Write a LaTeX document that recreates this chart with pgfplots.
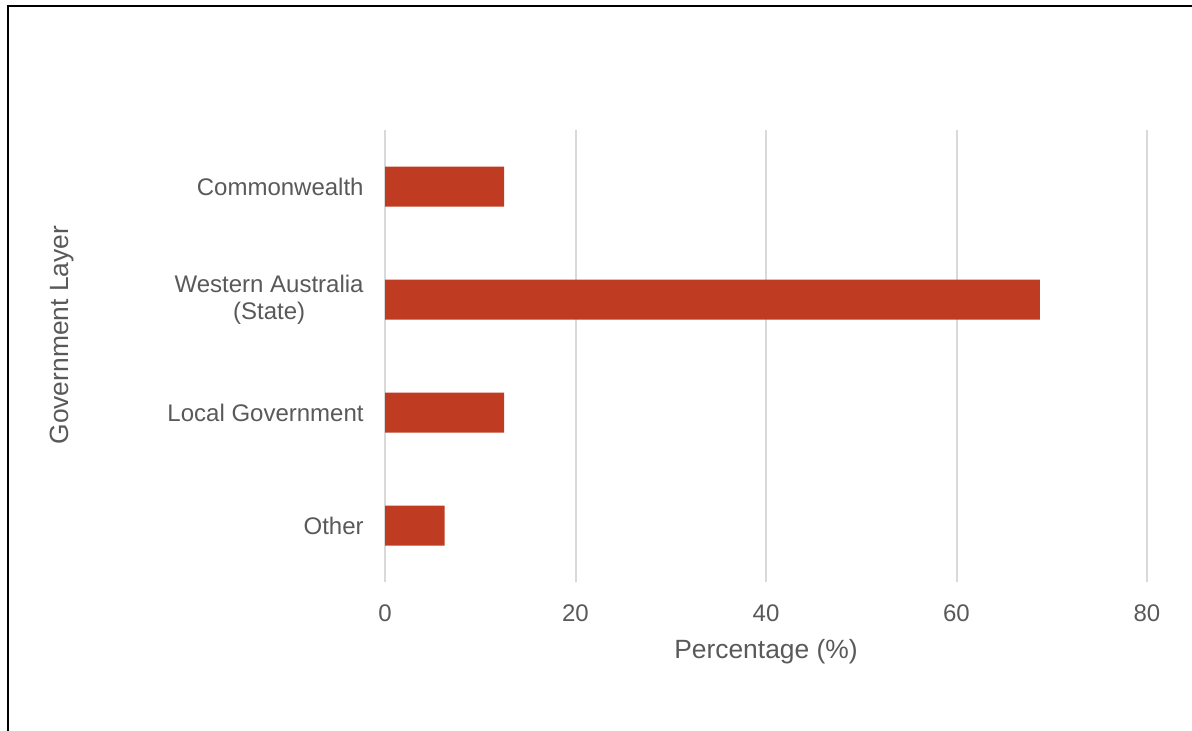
\documentclass[border=0pt]{standalone}
\usepackage{pgfplots}
\pgfplotsset{compat=1.18}
\usepackage{fontspec}
\setmainfont{Liberation Sans}
\definecolor{barc}{RGB}{191,60,34}
\definecolor{txt}{RGB}{89,89,89}
\definecolor{gridc}{RGB}{217,217,217}
\begin{document}
\begin{tikzpicture}[x=1pt,y=1pt]
\useasboundingbox (0,0) rectangle (596,365);
\draw[line width=1pt,black] (4,-5) -- (4,362) -- (605,362);
\begin{axis}[
  at={(192.5pt,74pt)}, anchor=south west,
  scale only axis, width=381pt, height=226pt,
  xbar, bar width=20pt,
  xmin=0, xmax=80, ymin=-0.5, ymax=3.5,
  xtick={0,20,40,60,80},
  ytick={0,1,2,3},
  yticklabels={Other,Local Government,{Western Australia\\(State)},Commonwealth},
  axis line style={draw=none},
  major tick length=0pt,
  xmajorgrids, grid style={gridc,line width=1pt},
  /pgf/number format/assume math mode=true,
  tick label style={font=\fontsize{12}{13.5}\selectfont, text=txt},
  yticklabel style={align=center, inner sep=0pt, xshift=-10.5pt},
  xticklabel style={inner sep=0pt, yshift=-11pt},
  xlabel={Percentage (\%)},
  ylabel={Government Layer},
  label style={font=\fontsize{13.2}{15}\selectfont, text=txt},
  xlabel style={at={(axis description cs:0.5,0)}, anchor=base, yshift=-38pt},
  ylabel style={at={(axis description cs:-0.424,0.546)}, anchor=center, rotate=0},
  clip=false,
]
\addplot[fill=barc, draw=none] coordinates {(6.25,0) (12.5,1) (68.75,2) (12.5,3)};
\end{axis}
\end{tikzpicture}
\end{document}
